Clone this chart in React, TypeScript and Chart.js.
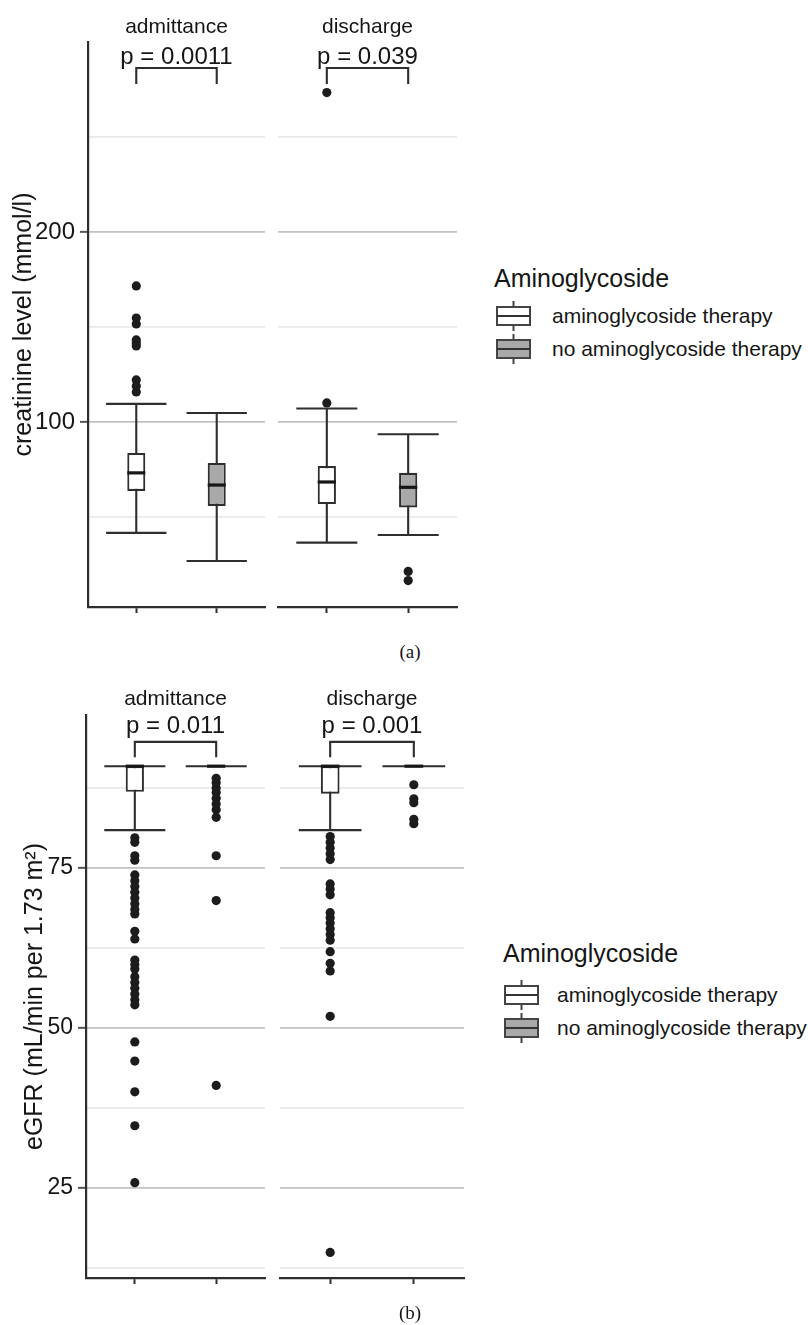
import React, { useEffect, useRef } from 'react';
import { Chart, registerables } from 'chart.js';

Chart.register(...registerables);

// ---------------- Data ----------------
const FACETS = ['admittance', 'discharge'];
const GROUPS = ['aminoglycoside therapy', 'no aminoglycoside therapy'];
const GROUP_POS = [1, 2];
const LEGEND_TITLE = 'Aminoglycoside';
const PANEL_TAGS = ['(a)', '(b)'];

// Panel (a): creatinine level
const A_Y_TITLE = 'creatinine level (mmol/l)';
const A_Y_RANGE = [2.6, 300];
const A_TICKS = [50, 100, 150, 200, 250];
const A_TICK_LABELS = ['', '100', '', '200', ''];
// box stats: [lower whisker, Q1, median, Q3, upper whisker]
const A_ADM_AMINO = [41.6, 63.7, 73.2, 83.7, 109.5];
const A_ADM_NONE = [26.8, 55.8, 66.8, 78.4, 104.7];
const A_DIS_AMINO = [36.5, 56.8, 68.4, 76.8, 107.1];
const A_DIS_NONE = [40.5, 55.0, 65.6, 73.2, 93.5];
const A_ADM_AMINO_OUT = [171.6, 154.7, 151.6, 143.2, 141.6, 140.0, 122.1, 118.9, 115.8];
const A_ADM_NONE_OUT: number[] = [];
const A_DIS_AMINO_OUT = [273.4, 110.0];
const A_DIS_NONE_OUT = [21.3, 16.5];
const A_P = ['p = 0.0011', 'p = 0.039'];
const A_BRACKET = [286.3, 277.9, 288.4]; // bar level, tip level, label baseline

// Panel (b): eGFR
const B_Y_TITLE = 'eGFR (mL/min per 1.73 m\u00B2)';
const B_Y_RANGE = [10.9, 98.9];
const B_TICKS = [12.5, 25, 37.5, 50, 62.5, 75, 87.5];
const B_TICK_LABELS = ['', '25', '', '50', '', '75', ''];
const B_ADM_AMINO = [80.9, 86.9, 90.9, 90.9, 90.9];
const B_ADM_NONE = [90.9, 90.9, 90.9, 90.9, 90.9];
const B_DIS_AMINO = [80.9, 86.6, 90.9, 90.9, 90.9];
const B_DIS_NONE = [90.9, 90.9, 90.9, 90.9, 90.9];
const B_ADM_AMINO_OUT = [
  79.7, 79.0, 76.9, 76.2, 73.9, 73.0, 72.1, 71.2, 70.3, 69.4, 68.5, 67.8, 65.1, 63.9,
  60.6, 59.9, 59.2, 58.0, 57.1, 56.2, 55.3, 54.4, 53.6, 47.8, 44.8, 40.0, 34.7, 25.8,
];
const B_ADM_NONE_OUT = [89.0, 88.3, 87.5, 86.8, 85.9, 85.0, 84.1, 82.9, 76.9, 69.9, 41.0];
const B_DIS_AMINO_OUT = [
  79.9, 79.0, 78.1, 77.2, 76.3, 72.5, 71.7, 70.8, 68.0, 67.2, 66.4, 65.5, 64.6, 63.7,
  61.9, 60.1, 58.9, 51.8, 14.9,
];
const B_DIS_NONE_OUT = [88.0, 85.8, 85.2, 82.6, 81.9];
const B_P = ['p = 0.011', 'p = 0.001'];
const B_BRACKET = [94.7, 92.3, 96.1];

// ---------------- Styles ----------------
const FONT = '"Liberation Sans", Arial, Helvetica, sans-serif';
const SERIF = '"Liberation Serif", "Times New Roman", serif';
const TEXT = '#161616';
const AXIS = '#2e2e2e';
const LINE = '#2e2e2e';
const DOT = '#1c1c1c';
const FILLS = ['#ffffff', '#a9a9a9'];
const GRID_MAJOR = '#c2c2c2';
const GRID_MINOR = '#e9e9e9';
const BOX_W = 0.224;
const CAP_W = 0.75;
const LW = 2.1;

type Pad = { top: number; right: number; bottom: number; left: number };

interface FacetProps {
  left: number;
  top: number;
  width: number;
  height: number;
  padding: Pad;
  axisWidth: number;
  axisHeight: number;
  showY: boolean;
  yTitle: string;
  yTitlePad: number;
  tickSize: number;
  yRange: number[];
  ticks: number[];
  tickLabels: string[];
  boxes: number[][];
  outliers: number[][];
  strip: string;
  stripOffset: number;
  pLabel: string;
  bracket: number[];
}

function FacetChart(p: FacetProps) {
  const ref = useRef<HTMLCanvasElement>(null);
  useEffect(() => {
    const canvas = ref.current;
    if (!canvas) return;
    const isMajor = (i: number) => !!p.tickLabels[i];

    const deco = {
      id: 'boxDeco',
      beforeDatasetsDraw(chart: any) {
        const { ctx, scales } = chart;
        const xs = scales.x;
        const ys = scales.y;
        ctx.save();
        ctx.strokeStyle = LINE;
        ctx.lineWidth = LW;
        p.boxes.forEach((b, i) => {
          const pos = GROUP_POS[i];
          const cx = xs.getPixelForValue(pos);
          const c0 = xs.getPixelForValue(pos - CAP_W / 2);
          const c1 = xs.getPixelForValue(pos + CAP_W / 2);
          const yl = ys.getPixelForValue(b[0]);
          const yu = ys.getPixelForValue(b[4]);
          ctx.beginPath();
          ctx.moveTo(cx, yl);
          ctx.lineTo(cx, yu);
          ctx.moveTo(c0, yl);
          ctx.lineTo(c1, yl);
          ctx.moveTo(c0, yu);
          ctx.lineTo(c1, yu);
          ctx.stroke();
        });
        ctx.restore();
      },
      afterDatasetsDraw(chart: any) {
        const { ctx, scales } = chart;
        const xs = scales.x;
        const ys = scales.y;
        ctx.save();
        ctx.strokeStyle = '#161616';
        ctx.lineWidth = 3.2;
        p.boxes.forEach((b, i) => {
          const pos = GROUP_POS[i];
          const m = ys.getPixelForValue(b[2]);
          ctx.beginPath();
          ctx.moveTo(xs.getPixelForValue(pos - BOX_W / 2), m);
          ctx.lineTo(xs.getPixelForValue(pos + BOX_W / 2), m);
          ctx.stroke();
        });
        ctx.restore();
      },
      afterDraw(chart: any) {
        const { ctx, chartArea: ca, scales } = chart;
        const xs = scales.x;
        const ys = scales.y;
        ctx.save();
        ctx.fillStyle = TEXT;
        ctx.textAlign = 'center';
        ctx.textBaseline = 'alphabetic';
        ctx.font = `21px ${FONT}`;
        ctx.fillText(p.strip, (ca.left + ca.right) / 2, ca.top - p.stripOffset);
        const x1 = xs.getPixelForValue(GROUP_POS[0]);
        const x2 = xs.getPixelForValue(GROUP_POS[1]);
        const yb = ys.getPixelForValue(p.bracket[0]);
        const yt = ys.getPixelForValue(p.bracket[1]);
        const yl = ys.getPixelForValue(p.bracket[2]);
        ctx.strokeStyle = LINE;
        ctx.lineWidth = LW;
        ctx.beginPath();
        ctx.moveTo(x1, yt);
        ctx.lineTo(x1, yb);
        ctx.lineTo(x2, yb);
        ctx.lineTo(x2, yt);
        ctx.stroke();
        ctx.font = `24px ${FONT}`;
        ctx.fillText(p.pLabel, (x1 + x2) / 2, yl);
        ctx.restore();
      },
    };

    const chart = new Chart(canvas, {
      type: 'scatter',
      data: {
        datasets: [
          {
            type: 'bar',
            data: p.boxes.map((b, i) => ({ x: GROUP_POS[i], y: [b[1], b[3]] })),
            backgroundColor: FILLS,
            borderColor: LINE,
            borderWidth: LW,
            borderSkipped: false,
            categoryPercentage: 1,
            barPercentage: BOX_W,
            order: 2,
          } as any,
          {
            type: 'scatter',
            data: p.outliers.flatMap((arr, i) => arr.map((v) => ({ x: GROUP_POS[i], y: v }))),
            pointRadius: 4.6,
            pointBackgroundColor: DOT,
            pointBorderWidth: 0,
            order: 1,
          } as any,
        ],
      },
      options: {
        animation: false,
        responsive: false,
        devicePixelRatio: 1,
        events: [],
        layout: { padding: p.padding },
        plugins: {
          legend: { display: false },
          tooltip: { enabled: false },
          title: { display: false },
        },
        scales: {
          x: {
            type: 'linear',
            min: 0.4,
            max: 2.6,
            offset: false,
            afterBuildTicks: (s: any) => {
              s.ticks = GROUP_POS.map((v) => ({ value: v }));
            },
            afterFit: (s: any) => {
              s.height = p.axisHeight;
            },
            ticks: { display: false },
            grid: {
              display: true,
              offset: false,
              drawOnChartArea: false,
              drawTicks: true,
              tickLength: 6,
              tickColor: AXIS,
              tickWidth: 2,
            },
            border: { display: true, color: AXIS, width: 2.2 },
          },
          y: {
            type: 'linear',
            min: p.yRange[0],
            max: p.yRange[1],
            beginAtZero: false,
            afterBuildTicks: (s: any) => {
              s.ticks = p.ticks.map((v) => ({ value: v }));
            },
            afterFit: (s: any) => {
              s.width = p.axisWidth;
            },
            ticks: {
              display: p.showY,
              autoSkip: false,
              padding: 5,
              color: TEXT,
              font: { family: FONT, size: p.tickSize },
              callback: (_v: any, i: number) => p.tickLabels[i],
            },
            grid: {
              display: true,
              color: (c: any) => (isMajor(c.index) ? GRID_MAJOR : GRID_MINOR),
              lineWidth: 1.7,
              drawTicks: p.showY,
              tickLength: 8,
              tickWidth: 2,
              tickColor: (c: any) => (isMajor(c.index) ? '#555555' : 'rgba(0,0,0,0)'),
            },
            border: { display: p.showY, color: AXIS, width: 2.2 },
            title: {
              display: p.showY,
              text: p.yTitle,
              color: TEXT,
              font: { family: FONT, size: 25 },
              padding: { top: p.yTitlePad, bottom: 0 },
            },
          },
        },
      } as any,
      plugins: [deco],
    });
    return () => chart.destroy();
  }, []);

  return (
    <canvas
      ref={ref}
      width={p.width}
      height={p.height}
      style={{ position: 'absolute', left: p.left, top: p.top, width: p.width, height: p.height }}
    />
  );
}

function LegendGlyph({ fill }: { fill: string }) {
  return (
    <svg width={35} height={30} style={{ display: 'block' }}>
      <line x1={17.5} y1={0} x2={17.5} y2={6} stroke="#444" strokeWidth={2} />
      <line x1={17.5} y1={24} x2={17.5} y2={30} stroke="#444" strokeWidth={2} />
      <rect x={1} y={6} width={33} height={18} fill={fill} stroke="#444" strokeWidth={2} />
      <line x1={1} y1={15} x2={34} y2={15} stroke="#333" strokeWidth={2.2} />
    </svg>
  );
}

function Legend({ titleX, titleBaseline, glyphX, labelX, rows }: any) {
  return (
    <>
      <div
        style={{
          position: 'absolute',
          left: titleX,
          top: titleBaseline - 21.2,
          font: `25px ${FONT}`,
          lineHeight: '25px',
          color: TEXT,
          whiteSpace: 'nowrap',
        }}
      >
        {LEGEND_TITLE}
      </div>
      {GROUPS.map((g, i) => (
        <React.Fragment key={g}>
          <div style={{ position: 'absolute', left: glyphX - 1, top: rows[i] - 15 }}>
            <LegendGlyph fill={FILLS[i]} />
          </div>
          <div
            style={{
              position: 'absolute',
              left: labelX,
              top: rows[i] + 6.5 - 17.8,
              font: `21px ${FONT}`,
              lineHeight: '21px',
              color: TEXT,
              whiteSpace: 'nowrap',
            }}
          >
            {g}
          </div>
        </React.Fragment>
      ))}
    </>
  );
}

export default function App() {
  const common = { width: 0, height: 640, yTitle: '', yTitlePad: 0 };
  return (
    <div
      style={{
        position: 'absolute',
        left: 0,
        top: 0,
        width: 808,
        height: 1325,
        overflow: 'hidden',
        background: '#ffffff',
      }}
    >
      {/* Panel (a) */}
      <FacetChart
        {...common}
        left={0}
        top={0}
        width={270}
        padding={{ top: 42, right: 5, bottom: 0, left: 0 }}
        axisWidth={88}
        axisHeight={33}
        showY={true}
        yTitle={A_Y_TITLE}
        yTitlePad={9}
        tickSize={24}
        yRange={A_Y_RANGE}
        ticks={A_TICKS}
        tickLabels={A_TICK_LABELS}
        boxes={[A_ADM_AMINO, A_ADM_NONE]}
        outliers={[A_ADM_AMINO_OUT, A_ADM_NONE_OUT]}
        strip={FACETS[0]}
        stripOffset={9}
        pLabel={A_P[0]}
        bracket={A_BRACKET}
      />
      <FacetChart
        {...common}
        left={270}
        top={0}
        width={200}
        padding={{ top: 42, right: 13, bottom: 0, left: 8 }}
        axisWidth={0}
        axisHeight={33}
        showY={false}
        tickSize={24}
        yRange={A_Y_RANGE}
        ticks={A_TICKS}
        tickLabels={A_TICK_LABELS}
        boxes={[A_DIS_AMINO, A_DIS_NONE]}
        outliers={[A_DIS_AMINO_OUT, A_DIS_NONE_OUT]}
        strip={FACETS[1]}
        stripOffset={9}
        pLabel={A_P[1]}
        bracket={A_BRACKET}
      />
      <Legend titleX={494} titleBaseline={287} glyphX={497} labelX={552} rows={[316, 349]} />
      <div
        style={{
          position: 'absolute',
          left: 380,
          width: 60,
          top: 641,
          textAlign: 'center',
          font: `19px ${SERIF}`,
          lineHeight: '22px',
          color: TEXT,
        }}
      >
        {PANEL_TAGS[0]}
      </div>

      {/* Panel (b) */}
      <FacetChart
        {...common}
        left={0}
        top={670}
        width={270}
        padding={{ top: 45, right: 5, bottom: 0, left: 0 }}
        axisWidth={86}
        axisHeight={32}
        showY={true}
        yTitle={B_Y_TITLE}
        yTitlePad={20}
        tickSize={23}
        yRange={B_Y_RANGE}
        ticks={B_TICKS}
        tickLabels={B_TICK_LABELS}
        boxes={[B_ADM_AMINO, B_ADM_NONE]}
        outliers={[B_ADM_AMINO_OUT, B_ADM_NONE_OUT]}
        strip={FACETS[0]}
        stripOffset={10}
        pLabel={B_P[0]}
        bracket={B_BRACKET}
      />
      <FacetChart
        {...common}
        left={270}
        top={670}
        width={200}
        padding={{ top: 45, right: 6, bottom: 0, left: 10 }}
        axisWidth={0}
        axisHeight={32}
        showY={false}
        tickSize={23}
        yRange={B_Y_RANGE}
        ticks={B_TICKS}
        tickLabels={B_TICK_LABELS}
        boxes={[B_DIS_AMINO, B_DIS_NONE]}
        outliers={[B_DIS_AMINO_OUT, B_DIS_NONE_OUT]}
        strip={FACETS[1]}
        stripOffset={10}
        pLabel={B_P[1]}
        bracket={B_BRACKET}
      />
      <Legend titleX={503} titleBaseline={962} glyphX={505} labelX={557} rows={[995, 1028]} />
      <div
        style={{
          position: 'absolute',
          left: 380,
          width: 60,
          top: 1302,
          textAlign: 'center',
          font: `19px ${SERIF}`,
          lineHeight: '22px',
          color: TEXT,
        }}
      >
        {PANEL_TAGS[1]}
      </div>
    </div>
  );
}
